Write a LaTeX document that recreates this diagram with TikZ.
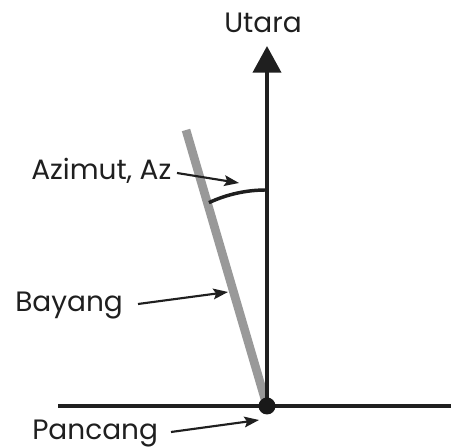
\documentclass[tikz,border=0pt]{standalone}
\usepackage{fontspec}
\setmainfont{Poppins}
\usetikzlibrary{arrows.meta}
\begin{document}
\begin{tikzpicture}[x=0.75pt,y=-0.75pt,
  lbl/.style={font=\fontsize{21}{24}\selectfont, inner sep=0pt, anchor=base west, text=black!88},
  ptr/.style={line width=1.6pt, -{Stealth[length=11pt,width=8pt,inset=2pt]}, black!88}]
\useasboundingbox (0,0) rectangle (451,448);
\coordinate (P) at (267,406);
\coordinate (N) at (267,46);
\coordinate (Top) at (186,130);
% horizontal ground line
\draw[line width=3pt, black!88] (58,406) -- (451,406);
% shadow
\draw[line width=6.5pt, black!40] (Top) -- (P);
% north arrow
\draw[line width=3pt, black!88, -{Triangle[length=20pt,width=21pt]}] (P) -- (N);
% azimuth arc
\coordinate (arcend) at (266,190);
\draw[line width=2.6pt, black!88] (arcend) arc (-90:-115:135);
% pancang dot
\fill[black!90] (P) circle (8.5);
% labels
\node[lbl, anchor=base] (utara) at (263,33) {Utara};
\node[lbl] (az) at (31,180) {Azimut, Az};
\node[lbl] (bay) at (15,312) {Bayang};
\node[lbl] (pan) at (32,440) {Pancang};
\coordinate (azt) at (239,183);
\coordinate (bayt) at (228,292);
\coordinate (pant) at (259,420);
\draw[ptr] (177,173) -- (azt);
\draw[ptr] (138,304) -- (bayt);
\draw[ptr] (171,432) -- (pant);
\end{tikzpicture}
\end{document}
